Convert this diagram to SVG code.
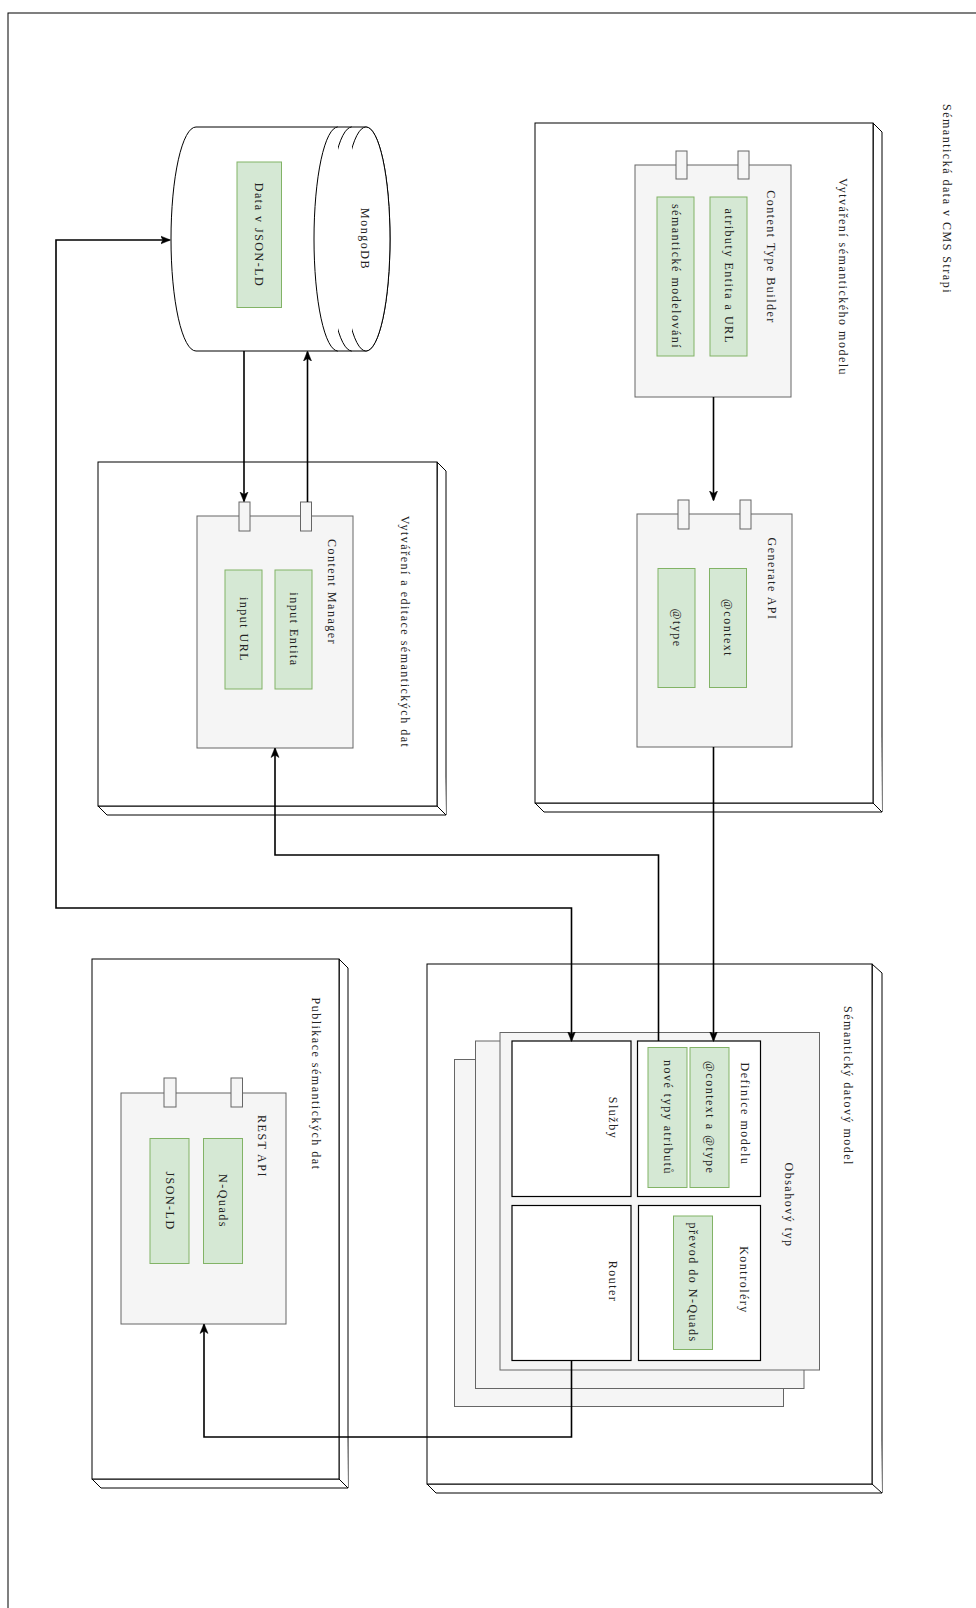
<svg xmlns="http://www.w3.org/2000/svg" width="976" height="1608" viewBox="0 0 976 1608">
<defs>
<style>
text{font-family:"Liberation Serif","DejaVu Serif",serif;font-size:12px;fill:#222;letter-spacing:1.5px;text-anchor:middle;dominant-baseline:central}
.frame{fill:#fff;stroke:#000;stroke-width:1}
.side{fill:#fff;stroke:#000;stroke-width:1}
.gray{fill:#f5f5f5;stroke:#666;stroke-width:1}
.green{fill:#d5e8d4;stroke:#82b366;stroke-width:1}
.white{fill:#fff;stroke:#000;stroke-width:1.2}
.conn{fill:none;stroke:#000;stroke-width:1.6}
.db{fill:#fff;stroke:#000;stroke-width:1}
</style>
<marker id="arr" viewBox="0 0 10 10" refX="9" refY="5" markerWidth="10" markerHeight="10" markerUnits="userSpaceOnUse" orient="auto-start-reverse">
<path d="M0,1 L10,5 L0,9 L2.5,5 z" fill="#000" stroke="#000" stroke-width="0.5"/>
</marker>
</defs>
<rect x="8" y="13" width="1000" height="1700" fill="#fff" stroke="#000" stroke-width="1"/>
<text transform="translate(947,199) rotate(90)">Sémantická data v CMS Strapi</text>

<g id="vytvareni-modelu">
<path class="side" d="M873,123 L882,132 L882,812 L544,812 L535,803 L873,803 Z"/>
<path class="side" fill="none" d="M873,123 L873,803 L882,812"/>
<rect class="frame" x="535" y="123" width="338" height="680"/>
<text transform="translate(843,277) rotate(90)">Vytváření sémantického modelu</text>
</g>

<g id="content-type-builder">
<rect class="gray" x="635" y="165" width="156" height="232"/>
<rect class="gray" x="676" y="151" width="11" height="28"/>
<rect class="gray" x="738" y="151" width="11" height="28"/>
<text transform="translate(771,257) rotate(90)">Content Type Builder</text>
<rect class="green" x="710" y="197" width="37" height="159"/>
<text transform="translate(728.5,276.5) rotate(90)">atributy Entita a URL</text>
<rect class="green" x="657" y="197" width="37" height="159"/>
<text transform="translate(675.5,276.5) rotate(90)">sémantické modelování</text>
</g>

<g id="generate-api">
<rect class="gray" x="637" y="514" width="155" height="233"/>
<rect class="gray" x="678" y="500" width="11" height="29"/>
<rect class="gray" x="740" y="500" width="11" height="29"/>
<text transform="translate(772,579) rotate(90)">Generate API</text>
<rect class="green" x="709.5" y="568.5" width="37" height="119"/>
<text transform="translate(728,628) rotate(90)">@context</text>
<rect class="green" x="658" y="568.5" width="37" height="119"/>
<text transform="translate(676.5,628) rotate(90)">@type</text>
</g>

<g id="vytvareni-editace">
<path class="side" d="M437,462 L446,471 L446,815 L107,815 L98,806 L437,806 Z"/>
<path class="side" fill="none" d="M437,462 L437,806 L446,815"/>
<rect class="frame" x="98" y="462" width="339" height="344"/>
<text transform="translate(405,632) rotate(90)">Vytváření a editace sémantických dat</text>
</g>

<g id="content-manager">
<rect class="gray" x="197" y="516" width="156" height="232"/>
<rect class="gray" x="239" y="502" width="11" height="29"/>
<rect class="gray" x="300.5" y="502" width="11" height="29"/>
<text transform="translate(332,592) rotate(90)">Content Manager</text>
<rect class="green" x="275" y="570" width="37" height="119"/>
<text transform="translate(293.5,629.5) rotate(90)">input Entita</text>
<rect class="green" x="225" y="570" width="37" height="119"/>
<text transform="translate(243.5,629.5) rotate(90)">input URL</text>
</g>

<g id="mongodb">
<path class="db" d="M196,127 L366,127 A24,112 0 0 1 366,351 L196,351 A25,112 0 0 1 196,127 Z"/>
<ellipse class="db" cx="366" cy="239" rx="24" ry="112"/>
<path class="db" fill="none" d="M352,127 A24,112 0 0 0 352,351"/>
<path class="db" fill="none" d="M338,127 A24,112 0 0 0 338,351"/>
<rect class="green" x="237" y="162" width="44.5" height="145.5"/>
<text transform="translate(259,235) rotate(90)">Data v JSON-LD</text>
<text transform="translate(365,239) rotate(90)">MongoDB</text>
</g>

<g id="publikace">
<path class="side" d="M339,959 L348,968 L348,1488 L101,1488 L92,1479 L339,1479 Z"/>
<path class="side" fill="none" d="M339,959 L339,1479 L348,1488"/>
<rect class="frame" x="92" y="959" width="247" height="520"/>
<text transform="translate(316,1084) rotate(90)">Publikace sémantických dat</text>
</g>

<g id="rest-api">
<rect class="gray" x="121" y="1093" width="165" height="231"/>
<rect class="gray" x="164" y="1078" width="12" height="29"/>
<rect class="gray" x="231" y="1078" width="11.5" height="29"/>
<text transform="translate(262,1146.5) rotate(90)">REST API</text>
<rect class="green" x="203.5" y="1138.5" width="39" height="125"/>
<text transform="translate(223,1201) rotate(90)">N-Quads</text>
<rect class="green" x="150" y="1138.5" width="39" height="125"/>
<text transform="translate(169.5,1201) rotate(90)">JSON-LD</text>
</g>

<g id="semanticky-model">
<path class="side" d="M872,964 L882,973 L882,1493 L436,1493 L427,1484 L872,1484 Z"/>
<path class="side" fill="none" d="M872,964 L872,1484 L882,1493"/>
<rect class="frame" x="427" y="964" width="445" height="520"/>
<text transform="translate(848,1086) rotate(90)">Sémantický datový model</text>
</g>

<g id="obsahovy-typ">
<rect class="gray" x="454.5" y="1059.5" width="329" height="347"/>
<rect class="gray" x="475.5" y="1041" width="328.5" height="347.5"/>
<rect class="gray" x="500" y="1032.5" width="319.5" height="337.5"/>
<text transform="translate(788.5,1205) rotate(90)">Obsahový typ</text>
</g>

<g id="definice-modelu">
<rect class="white" x="637.5" y="1041" width="123" height="155.5"/>
<text transform="translate(745,1114) rotate(90)">Definice modelu</text>
<rect class="green" x="690" y="1047.5" width="39" height="140"/>
<text transform="translate(709.5,1117.5) rotate(90)">@context a @type</text>
<rect class="green" x="648" y="1047.5" width="39" height="140"/>
<text transform="translate(667.5,1117.5) rotate(90)">nové typy atributů</text>
</g>

<g id="sluzby">
<rect class="white" x="512" y="1041" width="119" height="155.5"/>
<text transform="translate(612.5,1118) rotate(90)">Služby</text>
</g>

<g id="router">
<rect class="white" x="512" y="1205.5" width="119" height="155"/>
<text transform="translate(612.5,1281.5) rotate(90)">Router</text>
</g>

<g id="kontrolery">
<rect class="white" x="638.5" y="1205.5" width="122" height="155"/>
<text transform="translate(743.5,1280) rotate(90)">Kontroléry</text>
<rect class="green" x="673.5" y="1216" width="39" height="133.5"/>
<text transform="translate(693,1282.5) rotate(90)">převod do N-Quads</text>
</g>

<g id="connectors">
<path class="conn" d="M244,351 L244,501" marker-end="url(#arr)"/>
<path class="conn" d="M307.5,502 L307.5,352" marker-end="url(#arr)"/>
<path class="conn" d="M713.5,397 L713.5,500" marker-end="url(#arr)"/>
<path class="conn" d="M713.5,747 L713.5,1040.5" marker-end="url(#arr)"/>
<path class="conn" d="M658.5,1041 L658.5,855 L275,855 L275,748.5" marker-end="url(#arr)"/>
<path class="conn" d="M169.5,240 L56,240 L56,908 L571.5,908 L571.5,1040.5" marker-start="url(#arr)" marker-end="url(#arr)"/>
<path class="conn" d="M571.5,1360.5 L571.5,1437 L204,1437 L204,1324.5" marker-end="url(#arr)"/>
</g>
</svg>
